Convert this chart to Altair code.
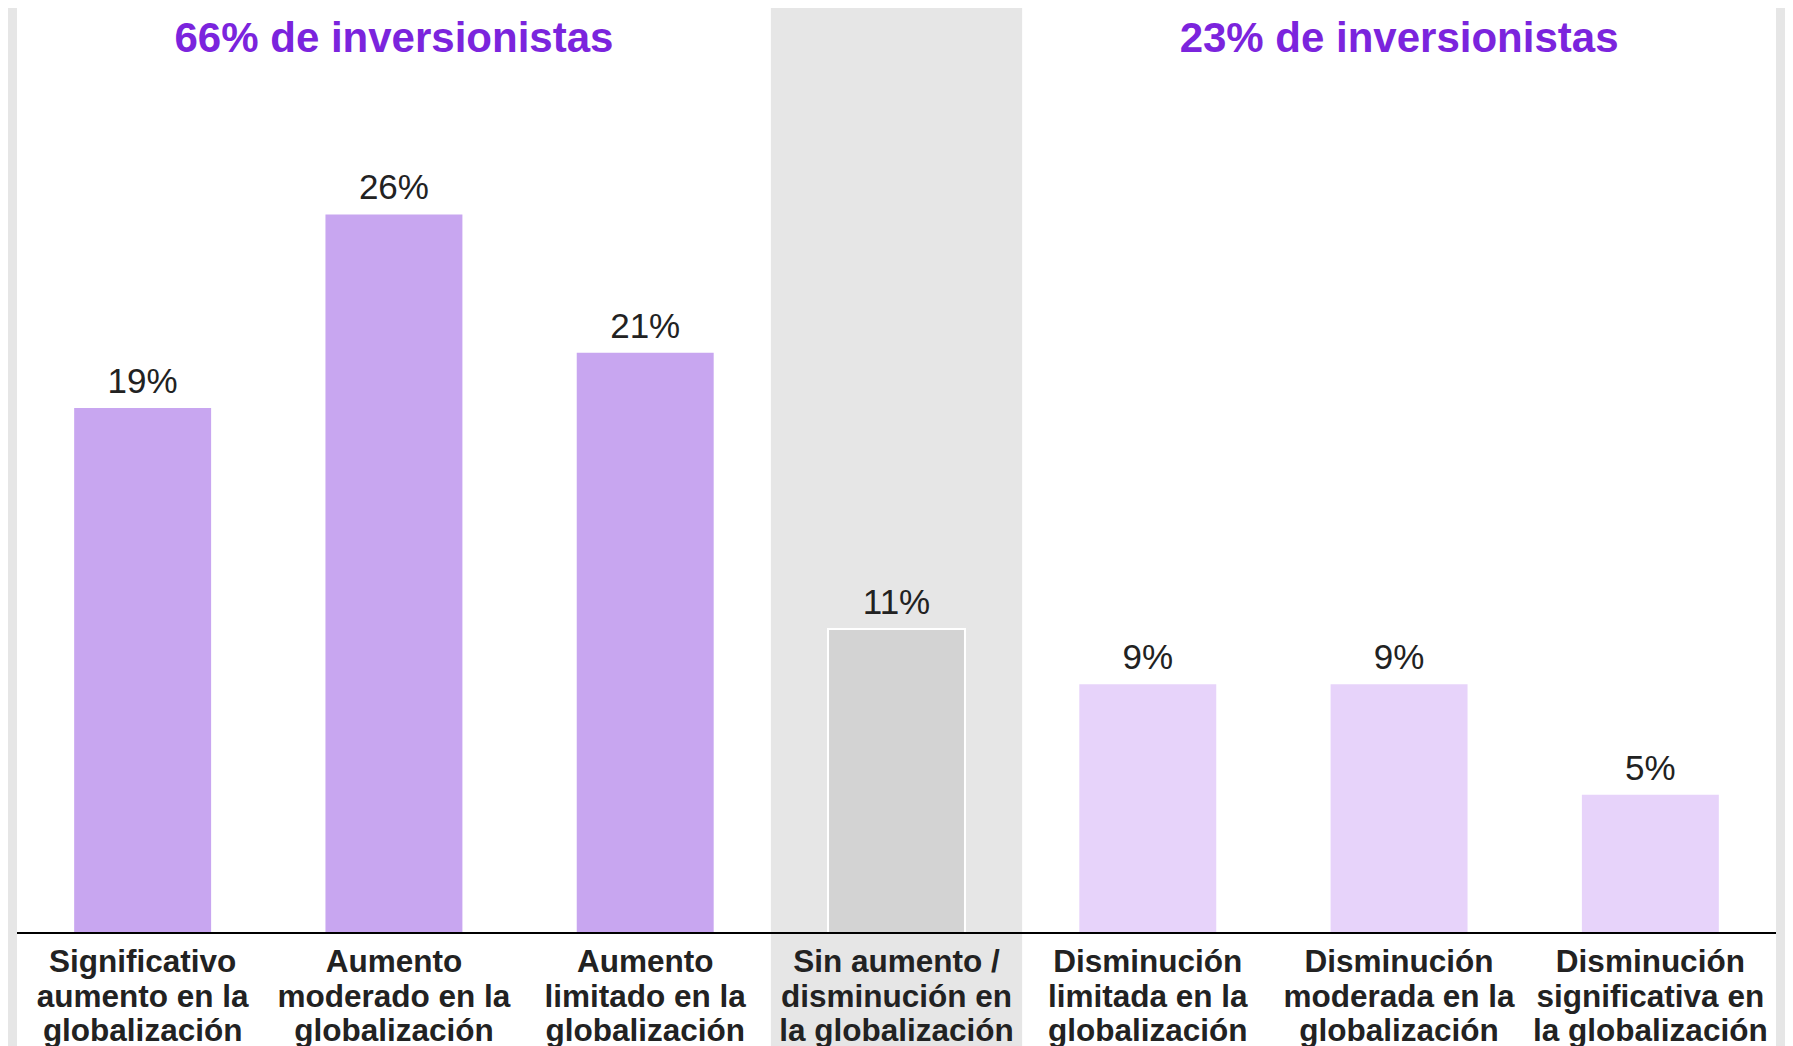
import altair as alt
import pandas as pd

categories = [
    "Significativo\naumento en la\nglobalización",
    "Aumento\nmoderado en la\nglobalización",
    "Aumento\nlimitado en la\nglobalización",
    "Sin aumento /\ndisminución en\nla globalización",
    "Disminución\nlimitada en la\nglobalización",
    "Disminución\nmoderada en la\nglobalización",
    "Disminución\nsignificativa en\nla globalización",
]
values = [19, 26, 21, 11, 9, 9, 5]
groups = ["aumento", "aumento", "aumento", "neutral", "disminucion", "disminucion", "disminucion"]
title_groups = ["aumento", "disminucion"]
title_texts = ["66% de inversionistas", "23% de inversionistas"]

df = pd.DataFrame({"idx": list(range(len(values))), "label": categories,
                   "value": values, "group": groups})
titles_df = pd.DataFrame({"group": title_groups, "title": title_texts})

W, H = 1759, 912
PAD_BOTTOM = 113
xs = alt.Scale(domain=[0, len(values)], nice=False, zero=False)
ys = alt.Scale(domain=[0, 33], nice=False, zero=True)

base = alt.Chart(df)

bg = base.transform_filter("datum.group != 'neutral'").transform_aggregate(
    lo="min(idx)", hi="max(idx)", groupby=["group"]
).transform_calculate(
    hi1="datum.hi + 1"
).mark_rect(fill="white").encode(
    x=alt.X("lo:Q", scale=xs, axis=None),
    x2="hi1:Q",
    y=alt.value(-16),
    y2=alt.value(H + PAD_BOTTOM),
)

bars = base.transform_calculate(
    bx0="datum.idx + 0.2275", bx1="datum.idx + 0.7725"
).mark_rect(stroke="white").encode(
    x=alt.X("bx0:Q", scale=xs, axis=None),
    x2="bx1:Q",
    y=alt.Y("value:Q", scale=ys, axis=None),
    y2=alt.datum(0),
    fill=alt.Fill("group:N", scale=alt.Scale(
        domain=["aumento", "neutral", "disminucion"],
        range=["#c8a6f0", "#d3d3d3", "#e7d3fa"]), legend=None),
    strokeWidth=alt.condition("datum.group == 'neutral'", alt.value(2), alt.value(0)),
)

rule = base.transform_aggregate(lo="min(idx)", hi="max(idx)").transform_calculate(
    hi1="datum.hi + 1", zero="0"
).mark_rule(color="black", strokeWidth=2).encode(
    x=alt.X("lo:Q", scale=xs, axis=None),
    x2="hi1:Q",
    y=alt.Y("zero:Q", scale=ys, axis=None),
)

value_text = base.transform_calculate(
    cx="datum.idx + 0.5", vt="datum.value + '%'"
).mark_text(font="Liberation Sans", fontSize=35, color="#222222",
            baseline="alphabetic", align="center", dy=-15).encode(
    x=alt.X("cx:Q", scale=xs, axis=None),
    y=alt.Y("value:Q", scale=ys, axis=None),
    text="vt:N",
)

labels = base.transform_calculate(
    cx="datum.idx + 0.5", lines="split(datum.label, '\\n')"
).mark_text(font="Liberation Sans", fontWeight="bold", fontSize=31.5,
            lineHeight=34.5, color="#222222", baseline="alphabetic",
            align="center").encode(
    x=alt.X("cx:Q", scale=xs, axis=None),
    y=alt.value(951),
    text="lines:N",
)

titles = base.transform_filter("datum.group != 'neutral'").transform_aggregate(
    c="mean(idx)", groupby=["group"]
).transform_calculate(cx="datum.c + 0.5").transform_lookup(
    lookup="group", from_=alt.LookupData(titles_df, "group", ["title"])
).mark_text(font="Liberation Sans", fontWeight="bold", fontSize=42,
            color="#7B24DD", baseline="alphabetic", align="center").encode(
    x=alt.X("cx:Q", scale=xs, axis=None),
    y=alt.value(31),
    text="title:N",
)

chart = alt.layer(bg, bars, rule, value_text, labels, titles).properties(
    width=W, height=H,
    autosize=alt.AutoSizeParams(type="none"),
    padding={"left": 9, "top": 13, "right": 9, "bottom": PAD_BOTTOM},
    background="#e6e6e6",
).configure_view(strokeWidth=0)

chart.save("out.html", embed_options={"renderer": "svg", "actions": False})
